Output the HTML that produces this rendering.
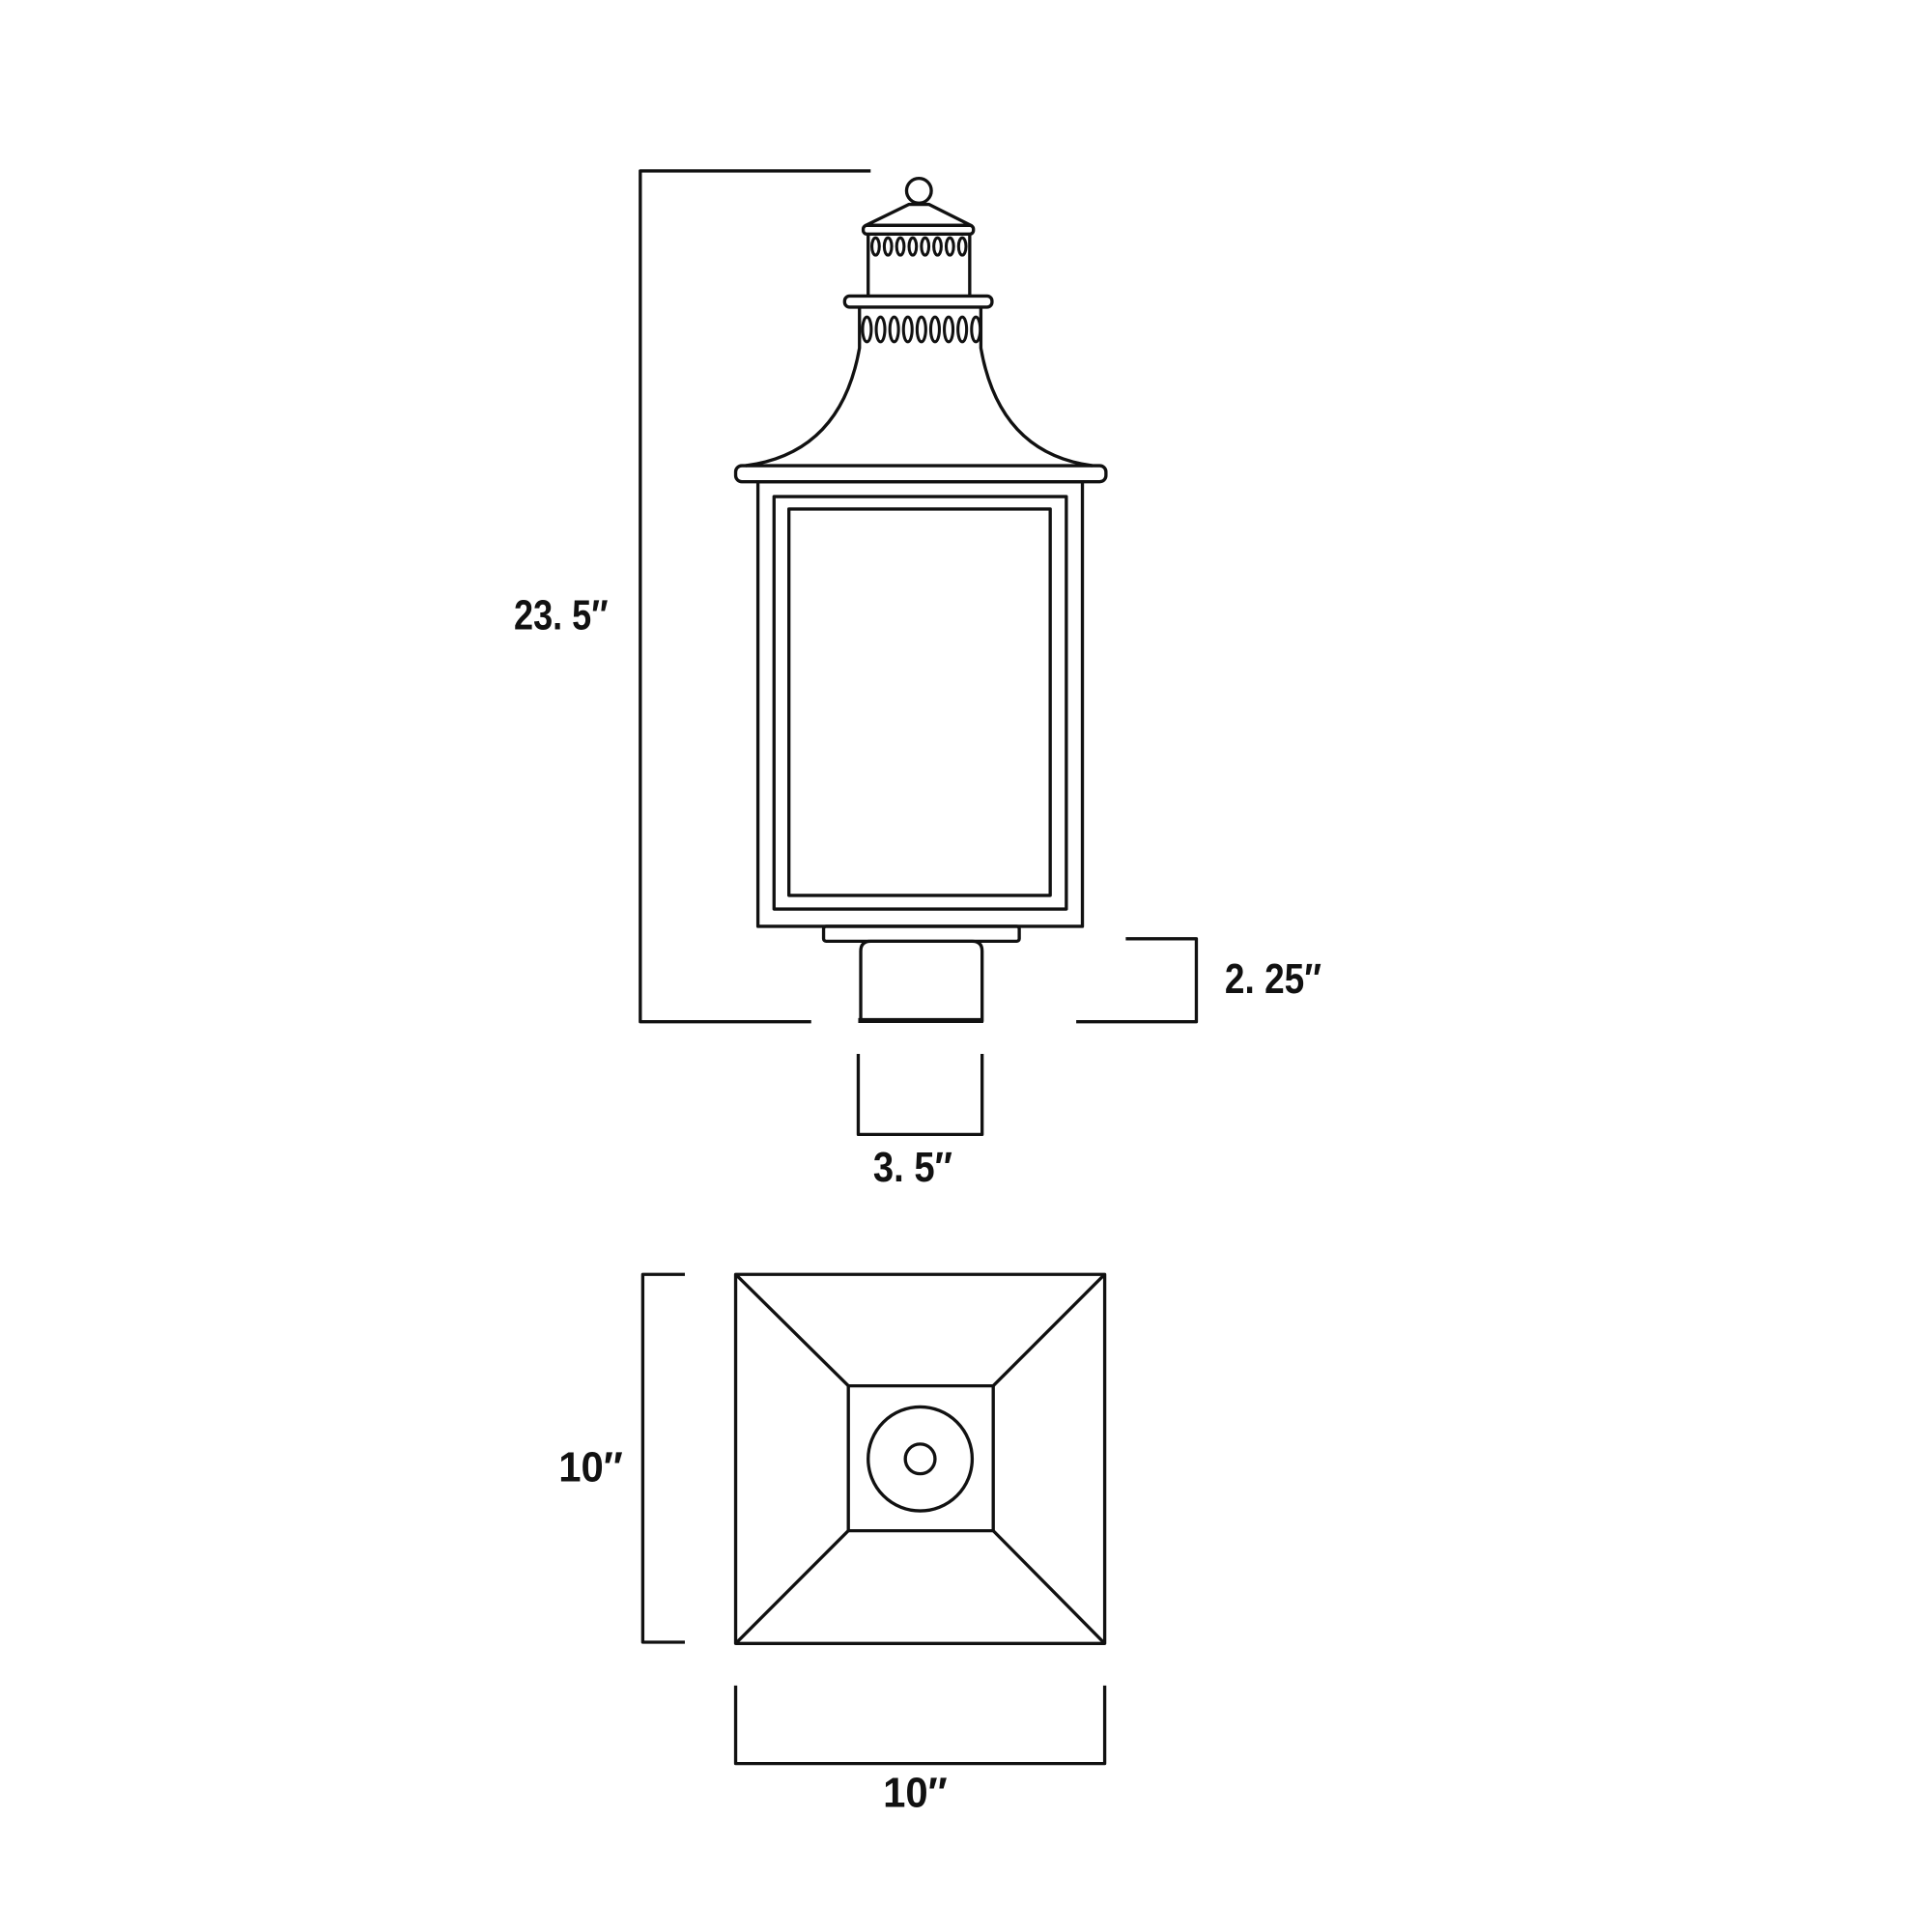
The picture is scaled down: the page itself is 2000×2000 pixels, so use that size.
<!DOCTYPE html>
<html><head><style>
html,body{margin:0;padding:0;background:#fff;}
svg{display:block;}
text{font-family:"Liberation Sans Narrow","Liberation Sans",sans-serif;font-weight:bold;fill:#111;}
</style></head><body>
<svg width="2000" height="2000" viewBox="0 0 1560 1560" xmlns="http://www.w3.org/2000/svg">
<g transform="translate(-3,-4)">
<g fill="none" stroke="#111" stroke-width="2.6" stroke-linejoin="round">
<polyline points="706,142 520,142 520,829 658,829"/>
<circle cx="745" cy="158" r="10"/>
<path d="M737,169 L753,169 L787,186 L702,186 Z"/>
<rect x="700" y="186" width="89" height="7" rx="3"/>
<line x1="704" y1="193" x2="704" y2="243"/>
<line x1="786" y1="193" x2="786" y2="243"/>
<g stroke-width="2.4">
<ellipse cx="710" cy="203" rx="3" ry="7"/><ellipse cx="720" cy="203" rx="3" ry="7"/><ellipse cx="730" cy="203" rx="3" ry="7"/><ellipse cx="740" cy="203" rx="3" ry="7"/><ellipse cx="750" cy="203" rx="3" ry="7"/><ellipse cx="760" cy="203" rx="3" ry="7"/><ellipse cx="770" cy="203" rx="3" ry="7"/><ellipse cx="780" cy="203" rx="3" ry="7"/>
</g>
<rect x="685" y="243" width="119" height="9" rx="4"/>
<g stroke-width="2.4">
<ellipse cx="703" cy="270" rx="3.5" ry="10"/><ellipse cx="714" cy="270" rx="3.5" ry="10"/><ellipse cx="725" cy="270" rx="3.5" ry="10"/><ellipse cx="736" cy="270" rx="3.5" ry="10"/><ellipse cx="747" cy="270" rx="3.5" ry="10"/><ellipse cx="758" cy="270" rx="3.5" ry="10"/><ellipse cx="769" cy="270" rx="3.5" ry="10"/><ellipse cx="780" cy="270" rx="3.5" ry="10"/><ellipse cx="791" cy="270" rx="3.5" ry="10"/>
</g>
<path d="M697,252 L697,285 Q682,370 605,380"/>
<path d="M795,252 L795,285 Q810,370 885,380"/>
<rect x="597" y="380" width="299" height="13" rx="5"/>
<rect x="615" y="393" width="262" height="359"/>
<rect x="628" y="405" width="236" height="333"/>
<rect x="640" y="415" width="211" height="312"/>
<rect x="668" y="752" width="158" height="12" rx="2"/>
<path d="M698,829 L698,772 Q698,764 706,764 L788,764 Q796,764 796,772 L796,829"/>
<line x1="696" y1="828" x2="797" y2="828" stroke-width="4"/>
<polyline points="872,829 969,829 969,762 912,762"/>
<polyline points="696,855 696,920 796,920 796,855"/>
<rect x="597" y="1033" width="298" height="298"/>
<rect x="688" y="1123" width="117" height="117"/>
<line x1="597" y1="1033" x2="688" y2="1123"/>
<line x1="895" y1="1033" x2="805" y2="1123"/>
<line x1="597" y1="1331" x2="688" y2="1240"/>
<line x1="895" y1="1331" x2="805" y2="1240"/>
<circle cx="746" cy="1182" r="42"/>
<circle cx="746" cy="1182" r="12"/>
<polyline points="556,1033 522,1033 522,1330 556,1330"/>
<polyline points="597,1365 597,1428 895,1428 895,1365"/>
</g>
<text x="418" y="512" font-size="34" textLength="76" lengthAdjust="spacingAndGlyphs">23. 5″</text>
<text x="992" y="806" font-size="34" textLength="78" lengthAdjust="spacingAndGlyphs">2. 25″</text>
<text x="708" y="958" font-size="34" textLength="64" lengthAdjust="spacingAndGlyphs">3. 5″</text>
<text x="454" y="1200" font-size="34" textLength="52" lengthAdjust="spacingAndGlyphs">10″</text>
<text x="716" y="1463" font-size="34" textLength="52" lengthAdjust="spacingAndGlyphs">10″</text>
</g>
</svg>
</body></html>
